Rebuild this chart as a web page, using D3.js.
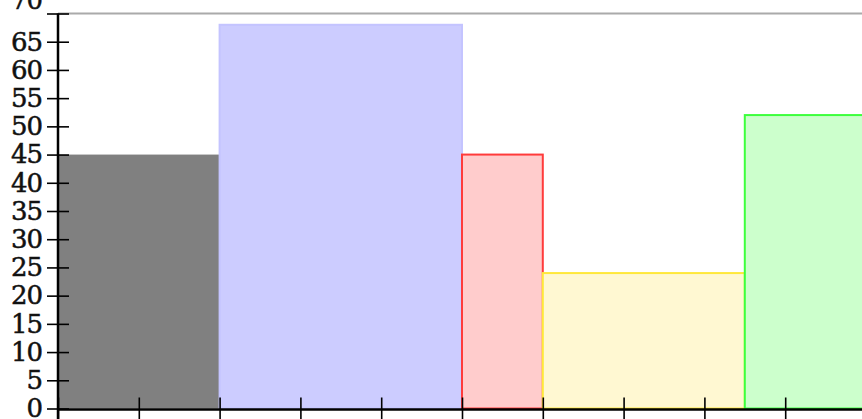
<!DOCTYPE html>
<html>
<head>
<meta charset="utf-8">
<script src="https://cdn.jsdelivr.net/npm/d3@7"></script>
<style>
  body { margin: 0; background: #fff; }
  svg { display: block; }
</style>
</head>
<body>
<div class="chart"></div>
<script>
// histogram bins (unequal widths) and their counts
const binEdges = [0, 2, 5, 6, 8.5, 10]
const counts = [45, 68, 45, 24, 52]
const yTicks = [0, 5, 10, 15, 20, 25, 30, 35, 40, 45, 50, 55, 60, 65, 70]
const xTicks = [0, 1, 2, 3, 4, 5, 6, 7, 8, 9, 10]

const fills = ["#808080", "#ccccff", "#ffcccc", "#fff8d2", "#ccffcc"]
const strokes = ["#808080", "#c4c4ff", "#ff3b3b", "#ffe83a", "#3cff3c"]

const width = 862
const height = 419

const svg = d3.select(".chart").append("svg").attr("width", width).attr("height", height)

const xScale = d3.scaleLinear().domain([0, 10]).range([58, 866])
const yScale = d3.scaleLinear().domain([0, 70]).range([408.5, 13.5])

const bins = counts.map((c, i) => ({ x0: binEdges[i], x1: binEdges[i + 1], value: c, i }))

// top frame line
svg.append("line")
  .attr("x1", xScale(0)).attr("x2", width)
  .attr("y1", yScale(70)).attr("y2", yScale(70))
  .attr("stroke", "#aaa").attr("stroke-width", 2)

svg.selectAll(".bar")
  .data(bins)
  .enter()
  .append("rect")
  .attr("class", "bar")
  .attr("x", d => xScale(d.x0))
  .attr("width", d => xScale(d.x1) - xScale(d.x0))
  .attr("y", d => yScale(d.value))
  .attr("height", d => yScale(0) - yScale(d.value))
  .attr("fill", d => fills[d.i])
  .attr("stroke", d => strokes[d.i])
  .attr("stroke-width", d => (d.i === 0 ? 0 : 2))

const yAxis = d3.axisLeft(yScale).tickValues(yTicks).tickSize(11).tickPadding(5)
const xAxis = d3.axisBottom(xScale).tickValues(xTicks).tickSize(12).tickFormat("")

const yAxisGroup = svg.append("g").attr("transform", `translate(${xScale(0)},0)`).call(yAxis)
yAxisGroup.select(".domain").remove()
yAxisGroup.selectAll(".tick line").attr("x1", 11).attr("stroke-width", 1.6)
yAxisGroup.selectAll(".tick text")
  .style("font-family", "'DejaVu Serif', serif")
  .style("font-size", "26px")
  .style("letter-spacing", "-1px")
  .attr("fill", "#111")
  .attr("stroke", "#111")
  .attr("stroke-width", 0.5)
// top label sits higher, clipped by the page edge
yAxisGroup.selectAll(".tick text").filter(d => d === 70).attr("dy", "-0.2em")

const xAxisGroup = svg.append("g").attr("transform", `translate(0,${yScale(0)})`).call(xAxis)
xAxisGroup.select(".domain").remove()
xAxisGroup.selectAll(".tick line").attr("y1", -11).attr("stroke-width", 1.6)

// axis lines
svg.append("line")
  .attr("x1", xScale(0)).attr("x2", xScale(0))
  .attr("y1", yScale(70)).attr("y2", height)
  .attr("stroke", "#000").attr("stroke-width", 2.5)
svg.append("line")
  .attr("x1", xScale(0) - 1).attr("x2", width)
  .attr("y1", yScale(0) + 1).attr("y2", yScale(0) + 1)
  .attr("stroke", "#000").attr("stroke-width", 2.5)
</script>
</body>
</html>
